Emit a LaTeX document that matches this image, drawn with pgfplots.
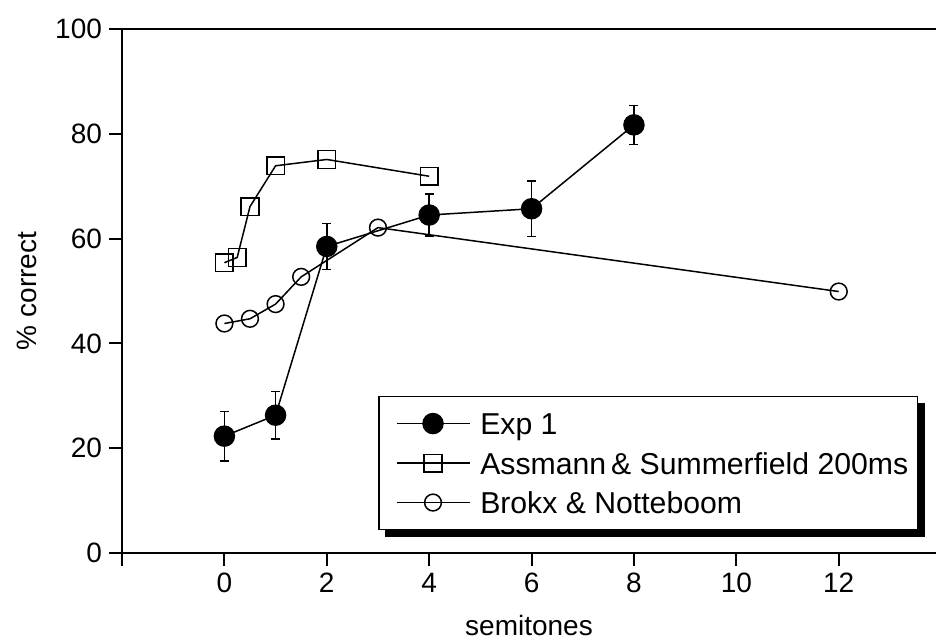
\documentclass[border=0pt]{standalone}
\usepackage{fontspec}
\setmainfont{Liberation Sans}
\usepackage{pgfplots}
\pgfplotsset{compat=1.18}

\begin{document}
\begin{tikzpicture}[font=\fontsize{14}{16}\selectfont]
\begin{axis}[
  scale only axis,
  width=407pt, height=262pt,
  xmin=-2, xmax=13.9, ymin=0, ymax=100,
  axis x line=box, axis y line=left,
  axis line style={-, line width=1pt},
  xtick pos=left, ytick pos=left,
  tick align=outside,
  major tick length=6.5pt,
  tick style={line width=1pt, black},
  xtick={-2,0,2,4,6,8,10,12},
  xticklabels={,0,2,4,6,8,10,12},
  ytick={0,20,...,100},
  /pgf/number format/assume math mode=true,
  xlabel={semitones}, ylabel={\% correct},
  xlabel style={at={(axis description cs:0.5,-0.139)}, anchor=center},
  ylabel style={at={(axis description cs:-0.1167,0.5)}, anchor=center},
  legend style={name=leg, at={(axis description cs:0.3145,0.3)}, anchor=north west,
    draw=black, line width=0.75pt, fill=white,
    inner xsep=4.5pt, inner ysep=7pt, row sep=6.75pt, column sep=5pt,
    font=\fontsize{15.1}{17}\selectfont,
    nodes={inner sep=0pt, text height=12pt, text depth=1pt, anchor=west}},
  legend cell align=left,
  legend image code/.code={\path (0pt,0pt) (40.5pt,0pt);
    \draw[mark repeat=2,mark phase=2,#1]
    plot coordinates {(4pt,0pt) (22.25pt,0pt) (40.5pt,0pt)};},
]
\coordinate (sw) at (rel axis cs:0,0);
\coordinate (ne) at (rel axis cs:1,1);

\addplot[black, line width=0.75pt, mark=*, mark size=5pt, mark options={fill=black},
  error bars/.cd, y dir=both, y explicit,
  error mark=|,
  error bar style={line width=0.75pt},
  error mark options={mark size=2.25pt, line width=0.75pt}]
  coordinates {
    (0,22.3) +- (0,4.7)
    (1,26.3) +- (0,4.5)
    (2,58.5) +- (0,4.4)
    (4,64.5) +- (0,4.0)
    (6,65.7) +- (0,5.3)
    (8,81.7) +- (0,3.7)
  };
\addlegendentry{Exp 1}

\addplot[black, line width=0.75pt, mark=square, mark size=4.4pt]
  coordinates {
    (0,55.4)(0.25,56.4)(0.5,66.1)(1,73.9)(2,75.1)(4,71.9)
  };
\addlegendentry{Assmann\,\& Summerfield 200ms}

\addplot[black, line width=0.75pt, mark=o, mark size=4.2pt]
  coordinates {
    (0,43.8)(0.5,44.7)(1,47.5)(1.5,52.7)(3,62.1)(12,49.9)
  };
\addlegendentry{Brokx \& Notteboom}

\end{axis}
% drop shadow of the legend box
\fill[black] ([xshift=3.5pt]leg.south west) rectangle ([xshift=3.5pt,yshift=-3.5pt]leg.south east);
\fill[black] ([yshift=-3.5pt]leg.north east) rectangle ([xshift=3.5pt,yshift=-3.5pt]leg.south east);
\pgfresetboundingbox
\useasboundingbox ([shift={(-61pt,-43pt)}]sw) rectangle ([shift={(0pt,14.5pt)}]ne);
\end{tikzpicture}
\end{document}
